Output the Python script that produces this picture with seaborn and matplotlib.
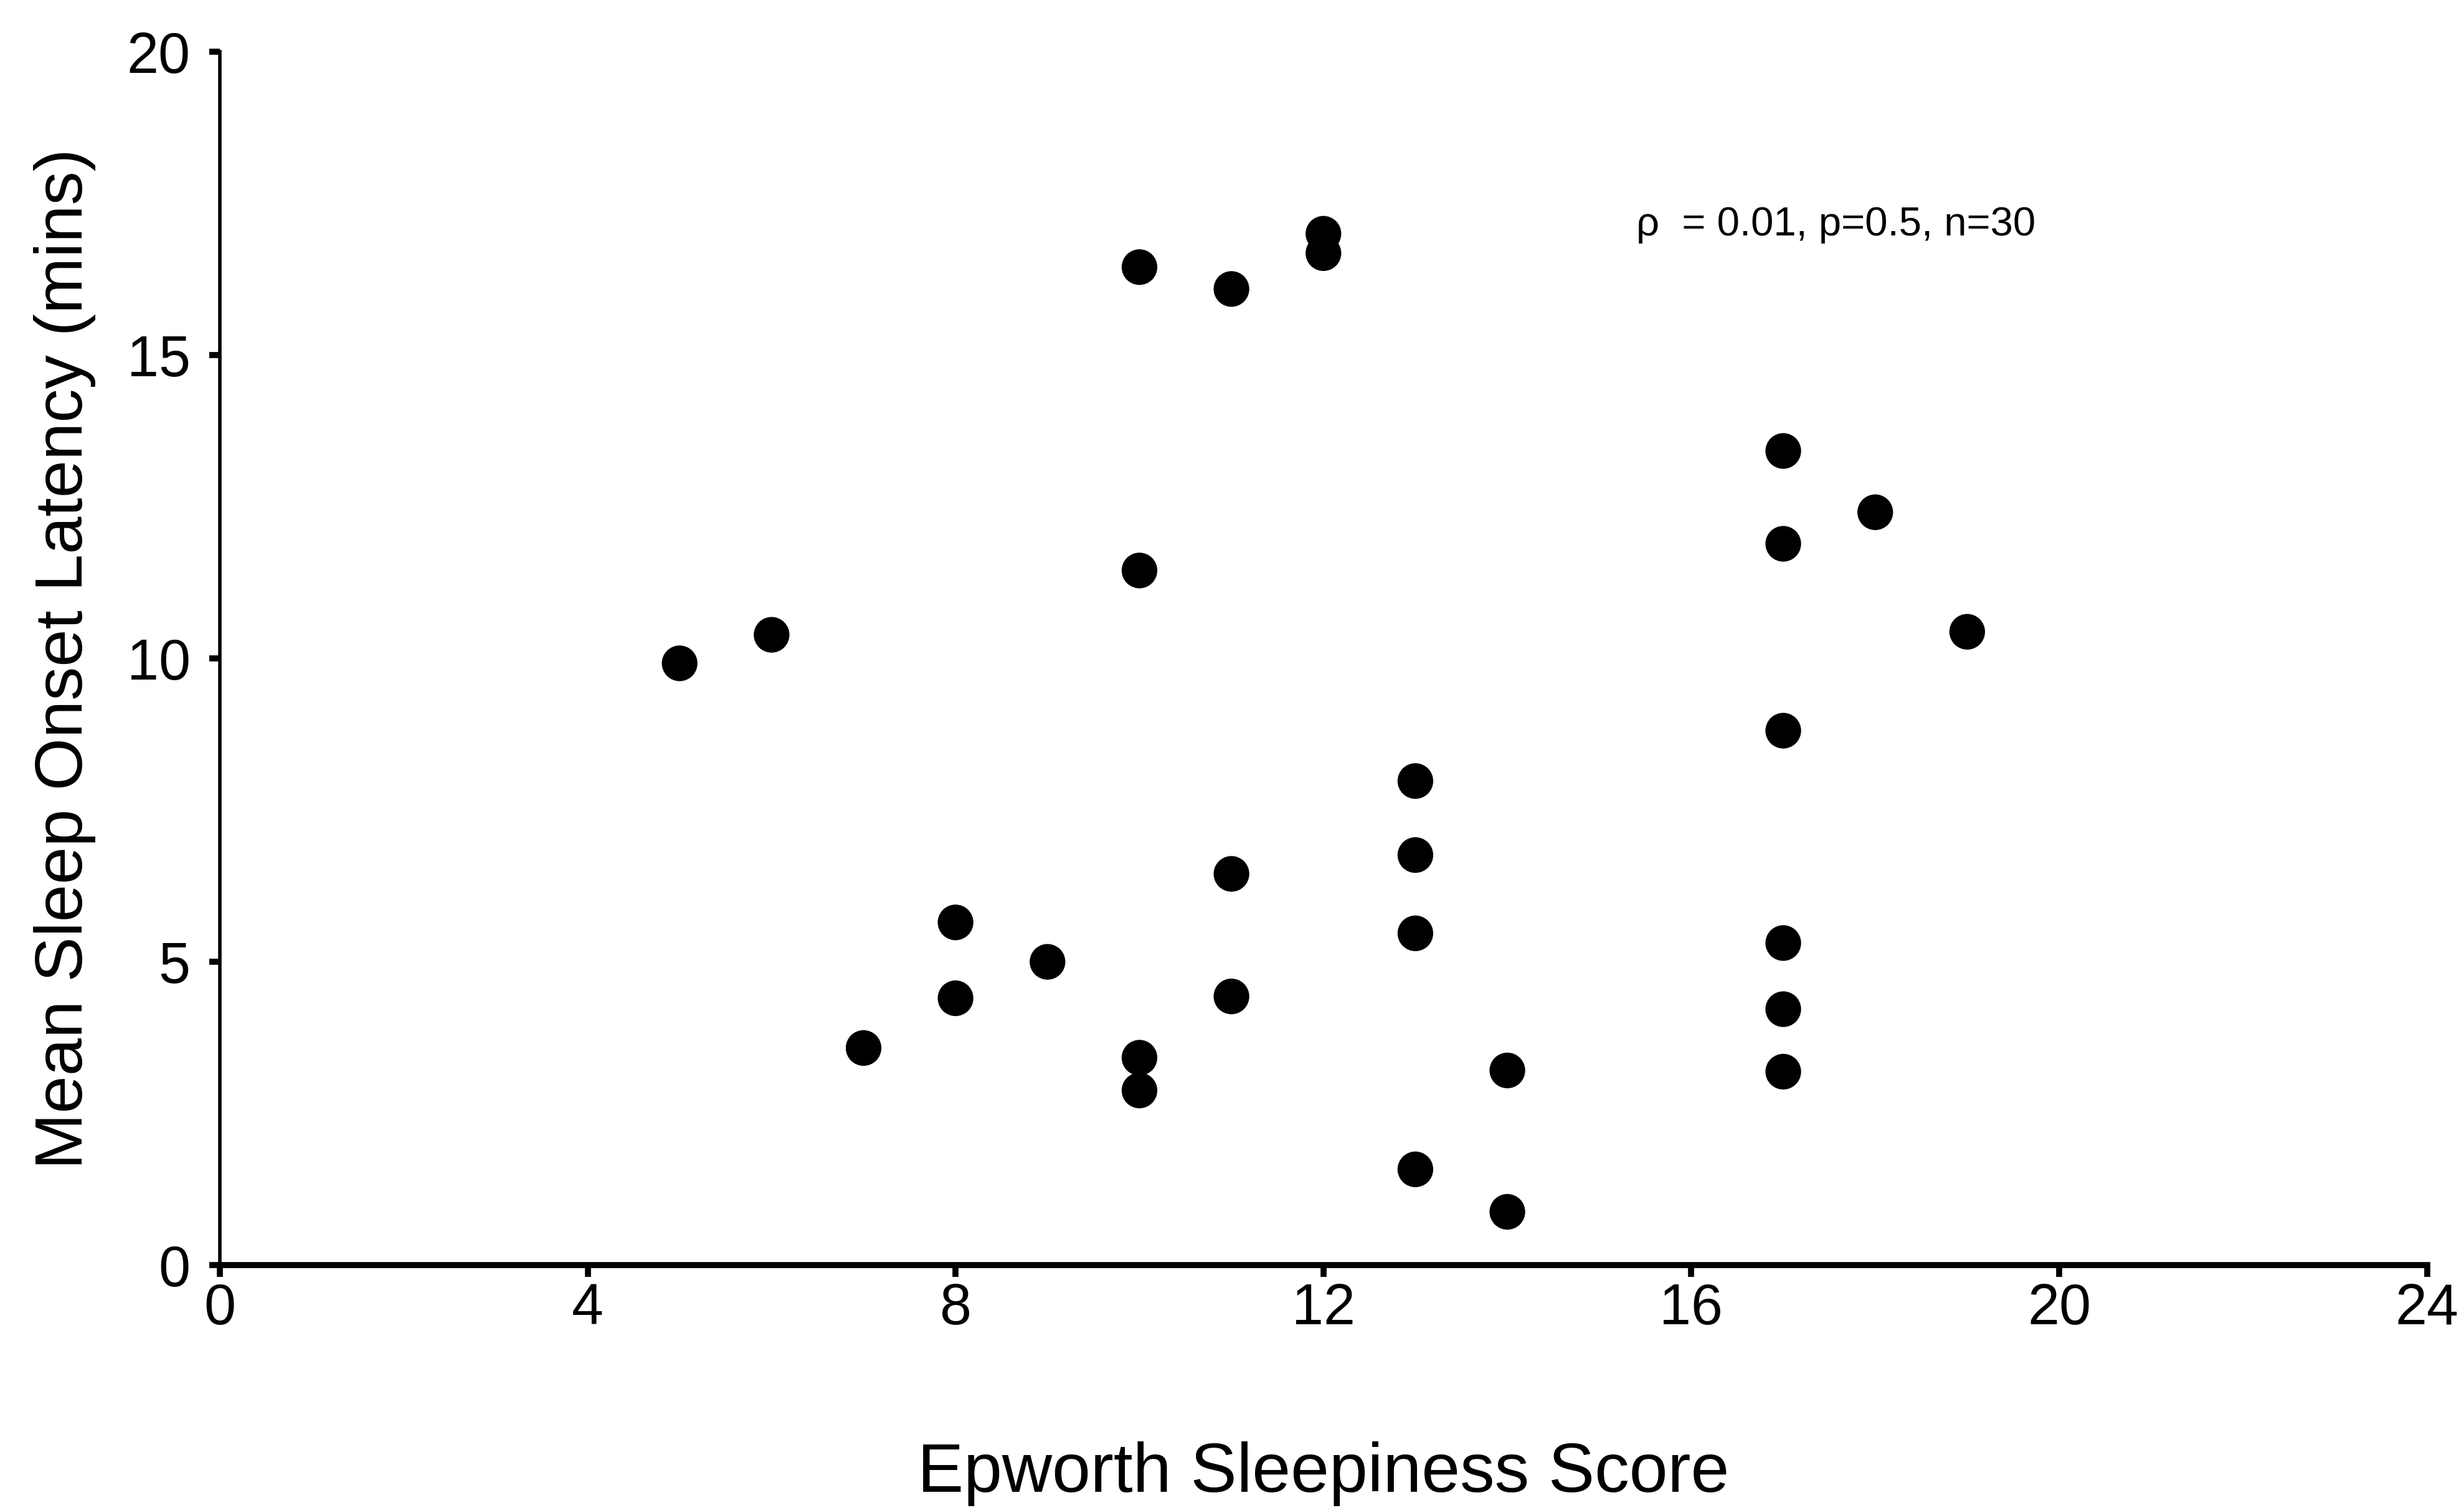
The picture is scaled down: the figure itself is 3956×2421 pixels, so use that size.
import matplotlib
matplotlib.use("Agg")
import matplotlib.pyplot as plt
import seaborn as sns
import pandas as pd

# Data
ess_score = [5, 6, 7, 8, 8, 9, 10, 10, 10, 10, 11, 11, 11, 12, 12,
             13, 13, 13, 13, 14, 14, 17, 17, 17, 17, 17, 17, 18, 19]
sleep_latency = [9.92, 10.39, 3.58, 5.65, 4.40, 5.0, 16.45, 11.45, 3.42, 2.88,
                 16.09, 6.45, 4.43, 17.0, 16.68, 7.98, 6.76, 5.47, 1.58,
                 3.21, 0.88, 13.42, 11.89, 8.81, 5.31, 4.22, 3.19, 12.41, 10.44]
x_ticks = [0, 4, 8, 12, 16, 20, 24]
y_ticks = [0, 5, 10, 15, 20]
annotation = "ρ  = 0.01, p=0.5, n=30"
x_label = "Epworth Sleepiness Score"
y_label = "Mean Sleep Onset Latency (mins)"

df = pd.DataFrame({"ess": ess_score, "msl": sleep_latency})

sns.set_style("ticks")
plt.rcParams["font.family"] = ["Liberation Sans Narrow", "Liberation Sans", "DejaVu Sans"]

fig = plt.figure(figsize=(39.56, 24.21), dpi=100)
ax = fig.add_axes([0.0892, 0.161, 0.8958, 0.8047])

sns.scatterplot(data=df, x="ess", y="msl", ax=ax, color="black", s=1700,
                edgecolor="none", linewidth=0, legend=False, clip_on=False)

ax.set_xlim(0, 24)
ax.set_ylim(0, 20)
ax.set_xticks(x_ticks)
ax.set_yticks(y_ticks)
ax.set_xticklabels([str(v) for v in x_ticks], fontsize=66)
ax.set_yticklabels([str(v) for v in y_ticks], fontsize=66)

for s in ["top", "right"]:
    ax.spines[s].set_visible(False)
ax.spines["left"].set_linewidth(4)
ax.spines["bottom"].set_linewidth(7)
ax.spines["left"].set_color("black")
ax.spines["bottom"].set_color("black")

ax.tick_params(axis="x", direction="out", length=14, width=7, pad=6, colors="black")
ax.tick_params(axis="y", direction="out", length=12, width=7, pad=22, colors="black")

ax.set_xlabel(x_label, fontsize=80, labelpad=122, color="black")
ax.set_ylabel(y_label, fontsize=78, labelpad=36, color="black")

ax.text(15.4, 17.15, annotation, fontsize=47, va="center", ha="left", color="black")

fig.savefig("out.png", dpi=100, facecolor="white")
